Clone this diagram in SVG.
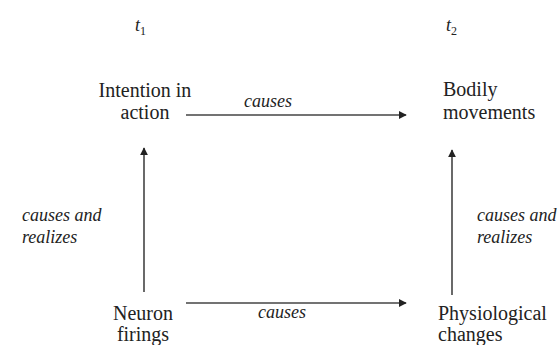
<svg xmlns="http://www.w3.org/2000/svg" width="559" height="345" viewBox="0 0 559 345">
<defs>
<marker id="ah" viewBox="0 0 10 10" refX="9" refY="5" markerWidth="8" markerHeight="8" markerUnits="userSpaceOnUse" orient="auto">
<path d="M0,0 L10,5 L0,10 Z" fill="#222"/>
</marker>
</defs>
<rect width="559" height="345" fill="#fff"/>
<g id="times">
<text x="135" y="31" font-family="Liberation Serif" font-size="18" font-style="italic" fill="#222">t<tspan font-size="12" dy="4" font-style="normal">1</tspan></text>
<text x="446" y="31" font-family="Liberation Serif" font-size="18" font-style="italic" fill="#222">t<tspan font-size="12" dy="4" font-style="normal">2</tspan></text>
</g>
<g id="connectors">
<g stroke="#444" stroke-width="1.6" fill="none">
<line x1="186" y1="115" x2="406" y2="115" marker-end="url(#ah)"/>
<line x1="186" y1="303" x2="406" y2="303" marker-end="url(#ah)"/>
<line x1="144" y1="292" x2="144" y2="148" marker-end="url(#ah)"/>
<line x1="452" y1="295" x2="452" y2="150" marker-end="url(#ah)"/>
</g>
<text x="268" y="107" font-family="Liberation Serif" font-size="18" font-style="italic" text-anchor="middle" fill="#222">causes</text>
<text x="282" y="318" font-family="Liberation Serif" font-size="18" font-style="italic" text-anchor="middle" fill="#222">causes</text>
<text x="22" y="221" font-family="Liberation Serif" font-size="18" font-style="italic" fill="#222">causes and</text>
<text x="22" y="243" font-family="Liberation Serif" font-size="18" font-style="italic" fill="#222">realizes</text>
<text x="477" y="221" font-family="Liberation Serif" font-size="18" font-style="italic" fill="#222">causes and</text>
<text x="477" y="243" font-family="Liberation Serif" font-size="18" font-style="italic" fill="#222">realizes</text>
</g>
<g id="intention">
<text x="145" y="97" font-family="Liberation Serif" font-size="20" text-anchor="middle" fill="#222">Intention in</text>
<text x="145" y="119" font-family="Liberation Serif" font-size="20" text-anchor="middle" fill="#222">action</text>
</g>
<g id="bodily">
<text x="443" y="96" font-family="Liberation Serif" font-size="20" fill="#222">Bodily</text>
<text x="443" y="119" font-family="Liberation Serif" font-size="20" fill="#222">movements</text>
</g>
<g id="neuron">
<text x="143" y="320" font-family="Liberation Serif" font-size="20" text-anchor="middle" fill="#222">Neuron</text>
<text x="143" y="341" font-family="Liberation Serif" font-size="20" text-anchor="middle" fill="#222">firings</text>
</g>
<g id="physio">
<text x="438" y="320" font-family="Liberation Serif" font-size="20" fill="#222">Physiological</text>
<text x="438" y="341" font-family="Liberation Serif" font-size="20" fill="#222">changes</text>
</g>
</svg>
